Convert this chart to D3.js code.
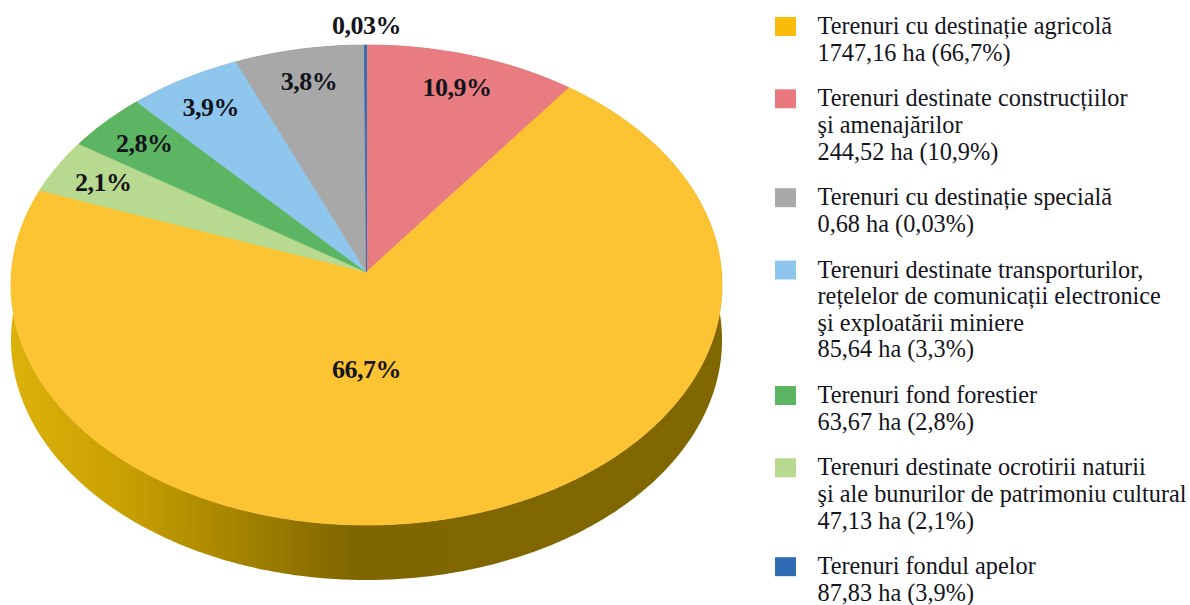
<!DOCTYPE html>
<html>
<head>
<meta charset="utf-8">
<script src="https://cdnjs.cloudflare.com/ajax/libs/d3/7.8.5/d3.min.js"></script>
<style>
  body { margin: 0; background: #fff; }
  svg { display: block; }
  text { font-family: "Liberation Serif", serif; fill: #14141c; }
</style>
</head>
<body>
<svg></svg>
<script>
// Slice shares as measured on the drawing, clockwise from 12 o'clock
const sliceNames = ["constructii", "agricol", "ocrotire", "forestier", "transport", "special", "apa"];
const sliceShares = [10.15, 70.5, 3.65, 3.95, 5.45, 6.2, 0.1];
const sliceLabels = ["10,9%", "66,7%", "2,1%", "2,8%", "3,9%", "3,8%", "0,03%"];
const sliceColors = ["#e87c81", "#fcc333", "#b8d990", "#5cb562", "#8fc6ee", "#a8a8a8", "#2f6cb4"];

const legendColors = ["#f9bc0a", "#e9797f", "#a8a8a8", "#8fc6ee", "#5cb562", "#b8d990", "#2f6cb4"];
const legendLines = [
  ["Terenuri cu destinație agricolă", "1747,16 ha (66,7%)"],
  ["Terenuri destinate construcțiilor", "şi amenajărilor", "244,52 ha (10,9%)"],
  ["Terenuri cu destinație specială", "0,68 ha (0,03%)"],
  ["Terenuri destinate transporturilor,", "rețelelor de comunicații electronice", "şi exploatării miniere", "85,64 ha (3,3%)"],
  ["Terenuri fond forestier", "63,67 ha (2,8%)"],
  ["Terenuri destinate ocrotirii naturii", "şi ale bunurilor de patrimoniu cultural", "47,13 ha (2,1%)"],
  ["Terenuri fondul apelor", "87,83 ha (3,9%)"]
];

const width = 1190;
const height = 605;

// Plot sizes, pie is a tilted disc so the hub sits above the middle of the ellipse
const hub = { x: 366.5, y: 272 };
const rx = 355;
const ry = 239.3;
const tilt = 0.05415;
const depth = 55;

const project = (angle, r = 1) => {
  const u = Math.sin(angle) * r;
  const v = Math.cos(angle) * r;
  const w = 1 + tilt * v;
  return [hub.x + rx * u / w, hub.y - ry * v / w];
};

const svg = d3.select("svg")
  .attr("width", width)
  .attr("height", height);

const arcs = d3.pie().sort(null).value(d => d)(sliceShares);

const line = d3.line();
const rimPoints = d => {
  const n = Math.max(2, Math.ceil((d.endAngle - d.startAngle) / 0.01));
  return d3.range(n + 1).map(i => project(d.startAngle + (d.endAngle - d.startAngle) * i / n));
};

// Side wall gradient
const grad = svg.append("defs").append("linearGradient")
  .attr("id", "wall")
  .attr("gradientUnits", "userSpaceOnUse")
  .attr("x1", 11).attr("x2", 722).attr("y1", 0).attr("y2", 0);
[[0, "#dcb10a"], [0.16, "#c9a002"], [0.3, "#a98700"], [0.48, "#806600"], [1, "#806700"]]
  .forEach(s => grad.append("stop").attr("offset", s[0]).attr("stop-color", s[1]));

// Side wall
svg.append("g").selectAll("path")
  .data(arcs)
  .enter()
  .append("path")
    .attr("d", d => {
      const rim = rimPoints(d);
      const lower = rim.slice().reverse().map(p => [p[0], p[1] + depth]);
      return line(rim.concat(lower)) + "Z";
    })
    .attr("fill", "url(#wall)");

// Top face
svg.append("g").selectAll("path")
  .data(arcs)
  .enter()
  .append("path")
    .attr("d", d => line([[hub.x, hub.y]].concat(rimPoints(d))) + "Z")
    .attr("fill", (d, i) => sliceColors[i])
    .attr("stroke", (d, i) => sliceColors[i])
    .attr("stroke-width", 0.8);

// Data labels
const labelPos = (d, i) => {
  if (sliceNames[i] === "agricol") return project(Math.PI, 0.3965);
  if (sliceNames[i] === "apa") return project(0, 1.09);
  return project((d.startAngle + d.endAngle) / 2, 0.849);
};
svg.append("g").selectAll("text")
  .data(arcs)
  .enter()
  .append("text")
    .attr("x", (d, i) => labelPos(d, i)[0])
    .attr("y", (d, i) => labelPos(d, i)[1])
    .attr("dy", "0.33em")
    .attr("text-anchor", "middle")
    .attr("font-size", 26)
    .attr("font-weight", "bold")
    .attr("letter-spacing", -0.5)
    .text((d, i) => sliceLabels[i]);

// Legend
const lineHeight = 26.6;
const entryGap = 19.1;
let cursor = 34;
const legend = svg.append("g");
legendLines.forEach((lines, i) => {
  legend.append("rect")
    .attr("x", 775)
    .attr("y", cursor - 17)
    .attr("width", 21)
    .attr("height", 19)
    .attr("fill", legendColors[i]);
  legend.selectAll(null)
    .data(lines)
    .enter()
    .append("text")
      .attr("x", 817.5)
      .attr("y", (d, j) => cursor + j * lineHeight)
      .attr("font-size", 24.3)
      .text(d => d);
  cursor += lines.length * lineHeight + entryGap;
});
</script>
</body>
</html>
